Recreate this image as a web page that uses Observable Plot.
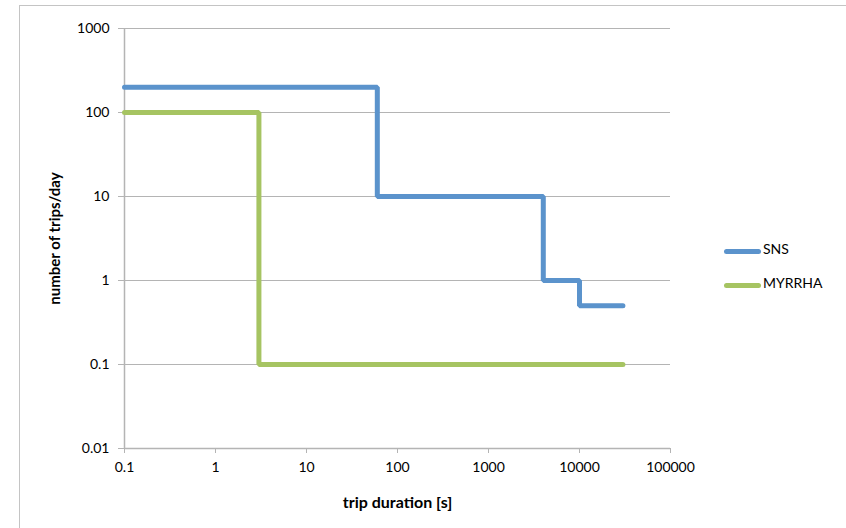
<!DOCTYPE html>
<html>
<head>
<meta charset="utf-8">
<script src="https://cdn.jsdelivr.net/npm/d3@7"></script>
<script src="https://cdn.jsdelivr.net/npm/@observablehq/plot@0.6"></script>
<style>
  html, body { margin: 0; padding: 0; background: #fff; }
  #wrap { position: relative; width: 846px; height: 528px; overflow: hidden; font-family: Lato, "Open Sans", sans-serif; }
  #border { position: absolute; left: 19px; top: 5px; width: 900px; height: 600px; border-left: 1.5px solid #c4c4c4; border-top: 1.5px solid #c4c4c4; }
  #chart { position: absolute; left: 0; top: 0; }
  g[aria-label="x-axis tick label"] text, g[aria-label="y-axis tick label"] text { font-size: 14px; }
  g[aria-label="x-axis label"] text { font-weight: bold; font-size: 16px; }
  g[aria-label="y-axis label"] text { font-weight: bold; font-size: 15px; }
  .legend { position: absolute; left: 724px; font-size: 14px; color: #000; }
  .legend .sw { position: absolute; left: 0; width: 37px; height: 5px; border-radius: 3px; }
  .legend .lb { position: absolute; left: 39px; top: -9px; white-space: nowrap; }
</style>
</head>
<body>
<div id="wrap">
  <div id="border"></div>
  <div id="chart"></div>
  <div id="legend"></div>
</div>
<script>
const seriesNames = ["SNS", "MYRRHA"];
const seriesColors = ["#5b93cc", "#a6c462"];
const snsDuration = [0.1, 60, 4000, 10000, 30000];
const snsTrips = [200, 10, 1, 0.5, 0.5];
const myrrhaDuration = [0.1, 3, 30000];
const myrrhaTrips = [100, 0.1, 0.1];
const xTicks = [0.1, 1, 10, 100, 1000, 10000, 100000];
const yTicks = [0.01, 0.1, 1, 10, 100, 1000];

const data = [
  ...snsDuration.map((d, i) => ({series: "SNS", x: d, y: snsTrips[i]})),
  ...myrrhaDuration.map((d, i) => ({series: "MYRRHA", x: d, y: myrrhaTrips[i]}))
];

const chart = Plot.plot({
  width: 846,
  height: 528,
  marginLeft: 124,
  marginRight: 176,
  marginTop: 28,
  marginBottom: 80,
  style: {fontFamily: "Lato, 'Open Sans', sans-serif", fontSize: "14px", background: "transparent", overflow: "visible"},
  x: {type: "log", domain: [0.1, 100000]},
  y: {type: "log", domain: [0.01, 1000]},
  color: {domain: seriesNames, range: seriesColors},
  marks: [
    Plot.gridY(yTicks, {stroke: "#b4b4b4", strokeOpacity: 1, strokeWidth: 1}),
    Plot.ruleX([0.1], {stroke: "#b4b4b4", strokeWidth: 1.5}),
    Plot.ruleY([0.01], {stroke: "#b4b4b4", strokeWidth: 1.5}),
    Plot.axisY(yTicks, {tickFormat: d => String(d), fontSize: 14, tickSize: 6, tickPadding: 9, stroke: "#b4b4b4", label: "number of trips/day", labelAnchor: "center", labelArrow: "none", labelOffset: 75}),
    Plot.axisX(xTicks, {tickFormat: d => String(d), fontSize: 14, tickSize: 5, tickPadding: 9, stroke: "#b4b4b4", label: "trip duration [s]", labelAnchor: "center", labelArrow: "none", labelOffset: 59}),
    Plot.line(data, {x: "x", y: "y", z: "series", stroke: "series", strokeWidth: 5, curve: "step-after", strokeLinecap: "round", strokeLinejoin: "miter"})
  ]
});
document.getElementById("chart").appendChild(chart);

const legend = document.getElementById("legend");
const legendY = [251, 285];
seriesNames.forEach((name, i) => {
  const item = document.createElement("div");
  item.className = "legend";
  item.style.top = (legendY[i] - 2) + "px";
  item.innerHTML = `<div class="sw" style="background:${seriesColors[i]}"></div><div class="lb">${name}</div>`;
  legend.appendChild(item);
});
</script>
</body>
</html>
